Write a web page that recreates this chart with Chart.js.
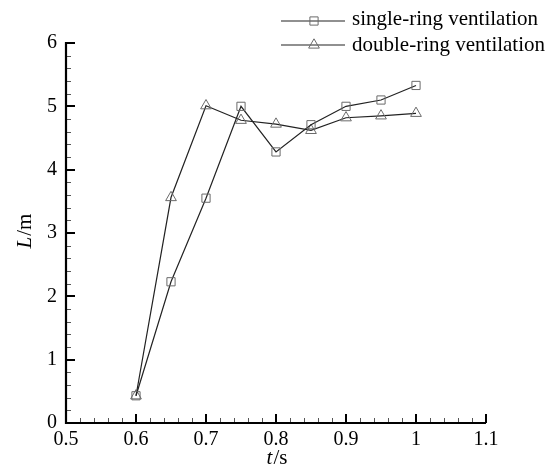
<!DOCTYPE html>
<html>
<head>
<meta charset="utf-8">
<script src="https://cdn.jsdelivr.net/npm/chart.js@4.4.0/dist/chart.umd.min.js"></script>
<style>
  html, body { margin: 0; padding: 0; background: #fff; }
  #wrap { width: 555px; height: 471px; }
</style>
</head>
<body>
<div id="wrap"><canvas id="chart" width="555" height="471"></canvas></div>
<script>
// time (s) and penetration length (m)
const times = [0.6, 0.65, 0.7, 0.75, 0.8, 0.85, 0.9, 0.95, 1.0];
const singleRing = [0.43, 2.23, 3.55, 5.0, 4.28, 4.71, 5.0, 5.10, 5.33];
const doubleRing = [0.43, 3.56, 5.01, 4.78, 4.72, 4.62, 4.82, 4.85, 4.89];
const seriesNames = ["single-ring ventilation", "double-ring ventilation"];
const xTicks = [0.5, 0.6, 0.7, 0.8, 0.9, 1.0, 1.1];
const yTicks = [0, 1, 2, 3, 4, 5, 6];

const FONT = "'Liberation Serif', 'Times New Roman', serif";
const lineColor = "#222";
const markColor = "#6a6a6a";

function toPoints(ys) {
    return times.map((t, i) => ({ x: t, y: ys[i] }));
}

// draws "italic part" + "plain part" centred on (0,0) of the current transform
function mixedText(ctx, ital, plain, size) {
    ctx.font = "italic " + size + "px " + FONT;
    const a = ctx.measureText(ital).width;
    ctx.font = size + "px " + FONT;
    const b = ctx.measureText(plain).width;
    const sx = -(a + b + 1) / 2;
    ctx.textAlign = "left";
    ctx.textBaseline = "middle";
    ctx.font = "italic " + size + "px " + FONT;
    ctx.fillText(ital, sx, 0);
    ctx.font = size + "px " + FONT;
    ctx.fillText(plain, sx + a + 1, 0);
}

// inward major/minor ticks + axis lines, legend and axis titles
const decorPlugin = {
    id: "decor",
    afterDraw(chart) {
        const ctx = chart.ctx;
        const xs = chart.scales.x;
        const ys = chart.scales.y;
        const area = chart.chartArea;
        ctx.save();

        // minor ticks
        ctx.lineWidth = 1;
        ctx.strokeStyle = "#555";
        for (let i = 0; i <= 30; i++) {
            if (i % 5 === 0) continue;
            const px = Math.round(xs.getPixelForValue(0.5 + i * 0.02)) + 0.5;
            ctx.beginPath();
            ctx.moveTo(px, area.bottom);
            ctx.lineTo(px, area.bottom - 5);
            ctx.stroke();
        }
        for (let i = 0; i <= 30; i++) {
            if (i % 5 === 0) continue;
            const py = Math.round(ys.getPixelForValue(i * 0.2)) + 0.5;
            ctx.beginPath();
            ctx.moveTo(area.left, py);
            ctx.lineTo(area.left + 5, py);
            ctx.stroke();
        }

        // major ticks
        ctx.strokeStyle = "#000";
        ctx.lineWidth = 2;
        xTicks.forEach(v => {
            const px = Math.round(xs.getPixelForValue(v));
            ctx.beginPath();
            ctx.moveTo(px, area.bottom);
            ctx.lineTo(px, area.bottom - 9);
            ctx.stroke();
        });
        yTicks.forEach(v => {
            const py = Math.round(ys.getPixelForValue(v));
            ctx.beginPath();
            ctx.moveTo(area.left, py);
            ctx.lineTo(area.left + 9, py);
            ctx.stroke();
        });

        // axis lines
        ctx.lineWidth = 2.2;
        ctx.beginPath();
        ctx.moveTo(area.left, area.top - 1);
        ctx.lineTo(area.left, area.bottom);
        ctx.lineTo(area.right, area.bottom);
        ctx.stroke();

        // axis titles
        ctx.fillStyle = "#000";
        ctx.save();
        ctx.translate(277, 458);
        mixedText(ctx, "t", "/s", 21);
        ctx.restore();

        ctx.save();
        ctx.translate(25, 231);
        ctx.rotate(-Math.PI / 2);
        mixedText(ctx, "L", "/m", 21);
        ctx.restore();

        // legend
        const lineY = [21, 45];
        const textY = [19, 45];
        chart.data.datasets.forEach((ds, i) => {
            const y = lineY[i];
            ctx.strokeStyle = lineColor;
            ctx.lineWidth = 1.2;
            ctx.beginPath();
            ctx.moveTo(281, y);
            ctx.lineTo(345, y);
            ctx.stroke();
            ctx.strokeStyle = markColor;
            ctx.fillStyle = "rgba(0,0,0,0)";
            ctx.lineWidth = 1;
            Chart.helpers.drawPoint(ctx, {
                pointStyle: ds.pointStyle,
                radius: ds.pointRadius,
                borderWidth: 1
            }, 314, y);
            ctx.fillStyle = "#000";
            ctx.font = "21px " + FONT;
            ctx.textAlign = "left";
            ctx.textBaseline = "middle";
            ctx.fillText(ds.label, 352, textY[i]);
        });
        ctx.restore();
    }
};

new Chart(document.getElementById("chart"), {
    type: "line",
    data: {
        datasets: [
            {
                label: seriesNames[0],
                data: toPoints(singleRing),
                borderColor: lineColor,
                borderWidth: 1.2,
                pointStyle: "rect",
                pointRadius: 5.8,
                pointBorderColor: markColor,
                pointBackgroundColor: "rgba(0,0,0,0)",
                pointBorderWidth: 1,
                tension: 0
            },
            {
                label: seriesNames[1],
                data: toPoints(doubleRing),
                borderColor: lineColor,
                borderWidth: 1.2,
                pointStyle: "triangle",
                pointRadius: 6.2,
                pointBorderColor: markColor,
                pointBackgroundColor: "rgba(0,0,0,0)",
                pointBorderWidth: 1,
                tension: 0
            }
        ]
    },
    options: {
        responsive: false,
        animation: false,
        layout: { padding: { left: 0, top: 43, right: 69, bottom: 0 } },
        plugins: {
            legend: { display: false },
            tooltip: { enabled: false }
        },
        scales: {
            x: {
                type: "linear",
                min: 0.5,
                max: 1.1,
                afterBuildTicks(scale) {
                    scale.ticks = xTicks.map(v => ({ value: v }));
                },
                afterFit(scale) { scale.height = 48; },
                grid: { display: false, drawTicks: false },
                border: { display: false },
                ticks: {
                    color: "#000",
                    padding: 5,
                    font: { family: FONT, size: 20 },
                    maxRotation: 0,
                    callback: v => String(Number(v.toFixed(1)))
                }
            },
            y: {
                min: 0,
                max: 6,
                afterBuildTicks(scale) {
                    scale.ticks = yTicks.map(v => ({ value: v }));
                },
                afterFit(scale) { scale.width = 66; },
                grid: { display: false, drawTicks: false },
                border: { display: false },
                ticks: {
                    color: "#000",
                    padding: 9,
                    font: { family: FONT, size: 20 }
                }
            }
        }
    },
    plugins: [decorPlugin]
});
</script>
</body>
</html>
